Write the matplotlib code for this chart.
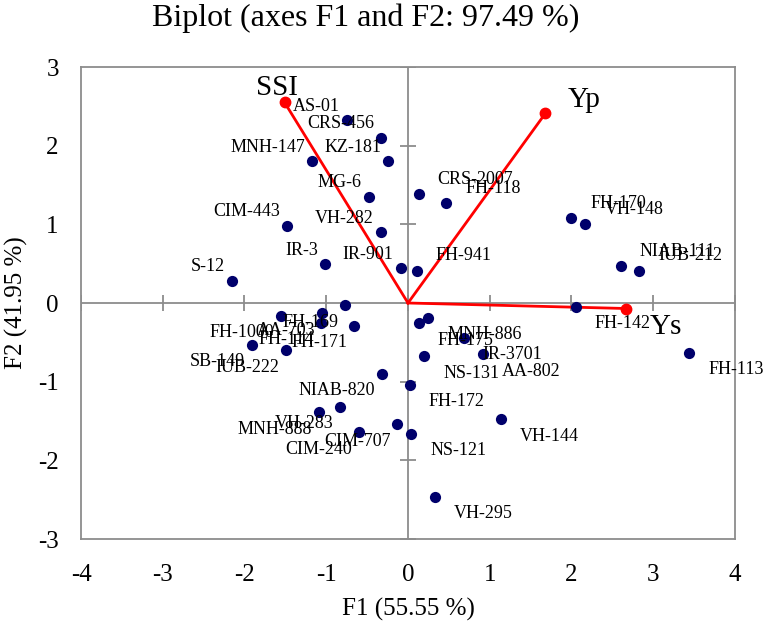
import matplotlib
matplotlib.use('Agg')
import matplotlib.pyplot as plt

plt.rcParams['font.family'] = ['Liberation Serif', 'DejaVu Serif']
plt.rcParams['axes.unicode_minus'] = False

# Observations (genotypes): F1 / F2 scores
genotypes = ['AS-01', 'CRS-456', 'KZ-181', 'MNH-147', 'MG-6', 'CIM-443', 'VH-282', 'IR-3', 'IR-901', 'S-12',
             'CRS-2007', 'FH-118', 'FH-941', 'FH-170', 'VH-148', 'NIAB-111', 'IUB-212',
             'FH-142', 'FH-113', 'MNH-886', 'FH-175', 'IR-3701', 'AA-802', 'NS-131', 'FH-172', 'VH-144',
             'NS-121', 'VH-295',
             'FH-169', 'FH-171', 'AA-703', 'FH-114', 'FH-1000', 'SB-149', 'IUB-222', 'NIAB-820', 'VH-283',
             'MNH-888', 'CIM-707', 'CIM-240']
f1 = [-0.75, -0.33, -0.24, -1.17, -0.48, -1.48, -0.33, -1.01, -0.09, -2.15,
      0.13, 0.47, 0.11, 2.00, 2.17, 2.60, 2.83,
      2.05, 3.44, 0.25, 0.13, 0.68, 0.92, 0.20, 0.02, 1.14,
      0.04, 0.33,
      -0.77, -0.66, -1.05, -1.06, -1.55, -1.91, -1.49, -0.32, -0.83,
      -1.09, -0.13, -0.60]
f2 = [2.32, 2.10, 1.80, 1.80, 1.35, 0.98, 0.90, 0.49, 0.44, 0.28,
      1.385, 1.27, 0.41, 1.08, 1.00, 0.47, 0.41,
      -0.05, -0.63, -0.19, -0.26, -0.44, -0.65, -0.68, -1.04, -1.48,
      -1.66, -2.46,
      -0.03, -0.29, -0.13, -0.25, -0.16, -0.53, -0.60, -0.90, -1.32,
      -1.39, -1.54, -1.64]

# Variables (loadings)
variables = ['SSI', 'Yp', 'Ys']
var_f1 = [-1.51, 1.68, 2.67]
var_f2 = [2.55, 2.41, -0.07]

title = 'Biplot (axes F1 and F2: 97.49 %)'
xlabel = 'F1 (55.55 %)'
ylabel = 'F2 (41.95 %)'
xticks = [-4, -3, -2, -1, 0, 1, 2, 3, 4]
yticks = [-3, -2, -1, 0, 1, 2, 3]

fig = plt.figure(figsize=(7.65, 6.27), dpi=100)
ax = fig.add_axes([81 / 765, 1 - 539 / 627, 654 / 765, 472 / 627])
gray = '#8c8c8c'

ax.set_xlim(-4, 4)
ax.set_ylim(-3, 3)
for s in ax.spines.values():
    s.set_color(gray)
    s.set_linewidth(1.3)

# central axes with cross ticks
ax.axhline(0, color=gray, lw=1.3, zorder=1)
ax.axvline(0, color=gray, lw=1.3, zorder=1)
ax.plot(xticks, [0] * len(xticks), ls='', marker='|', ms=11, mew=1.3, color=gray, zorder=1)
ax.plot([0] * len(yticks), yticks, ls='', marker='_', ms=11, mew=1.3, color=gray, zorder=1)

ax.set_xticks(xticks)
ax.set_yticks(yticks)
ax.tick_params(length=0, labelsize=18)
ax.tick_params(axis='x', pad=18)
ax.tick_params(axis='y', pad=16)

# observations
ax.scatter(f1, f2, s=65, color='#00006b', zorder=3, linewidths=0)
for name, x, y in zip(genotypes, f1, f2):
    if x < 0:
        off, ha = (-7, 14 if y >= 0 else -17), 'right'
    else:
        off, ha = (19, 15 if y >= 0 else -17), 'left'
    ax.annotate(name, (x, y), xytext=off, textcoords='offset pixels',
                ha=ha, va='center', fontsize=13, zorder=4)

# variables
var_off = [(-8, 14), (39, 13), (40, -18)]
for name, x, y, off in zip(variables, var_f1, var_f2, var_off):
    ax.plot([0, x], [0, y], color='red', lw=2, zorder=2)
    ax.plot(x, y, 'o', color='red', ms=7.5, zorder=3)
    ax.annotate(name, (x, y), xytext=off, textcoords='offset pixels',
                ha='center', va='center', fontsize=21, zorder=4)

ax.set_xlabel(xlabel, fontsize=18)
ax.xaxis.set_label_coords(0.5, -0.125)
ax.set_ylabel(ylabel, fontsize=18)
ax.yaxis.set_label_coords(-0.081, 0.5)
fig.text(366 / 765, 1 - 18 / 627, title, ha='center', va='center', fontsize=23)

plt.savefig('out.png', dpi=100)
